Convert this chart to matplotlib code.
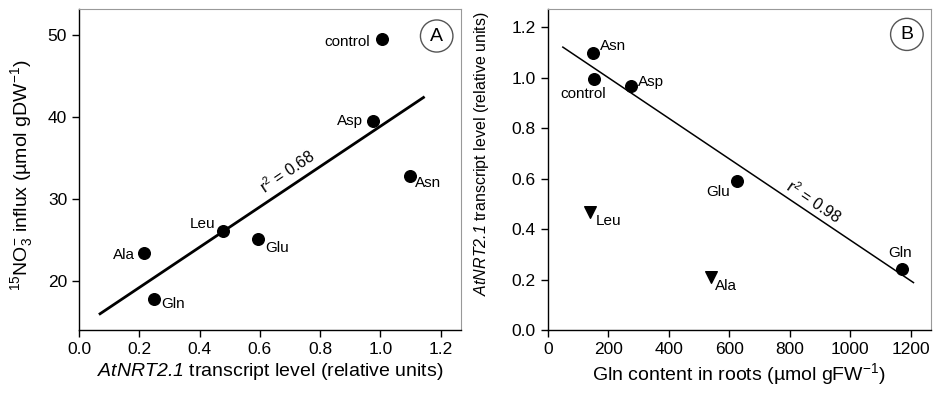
import matplotlib
matplotlib.use("Agg")
import matplotlib.pyplot as plt
from matplotlib.patches import Ellipse

plt.rcParams['font.family'] = ['Liberation Sans', 'DejaVu Sans']
plt.rcParams['mathtext.fontset'] = 'custom'
plt.rcParams['mathtext.rm'] = 'Liberation Sans'
plt.rcParams['mathtext.it'] = 'Liberation Sans:italic'
plt.rcParams['mathtext.sf'] = 'Liberation Sans:italic'
plt.rcParams['mathtext.default'] = 'regular'

# panel A: transcript level vs 15NO3- influx
a_names = ['control', 'Asp', 'Asn', 'Leu', 'Glu', 'Ala', 'Gln']
a_x = [1.005, 0.975, 1.099, 0.477, 0.595, 0.217, 0.249]
a_y = [49.6, 39.55, 32.84, 26.1, 25.1, 23.45, 17.8]
a_fit_x = [0.07, 1.143]
a_fit_y = [15.98, 42.4]

# panel B: Gln content vs transcript level
b_names = ['Asn', 'control', 'Asp', 'Glu', 'Gln']
b_x = [151, 154, 275, 625, 1172]
b_y = [1.098, 0.995, 0.966, 0.589, 0.241]
b_tri_names = ['Leu', 'Ala']
b_tri_x = [140, 539]
b_tri_y = [0.468, 0.212]
b_fit_x = [50, 1209]
b_fit_y = [1.122, 0.188]

fig = plt.figure(figsize=(9.39, 3.95), dpi=100)
axA = fig.add_axes([0.0841, 0.1646, 0.407, 0.8125])
axB = fig.add_axes([0.5833, 0.1646, 0.4082, 0.8125])

for ax in (axA, axB):
    for s in ('top', 'right'):
        ax.spines[s].set_color('#999999')
        ax.spines[s].set_linewidth(0.8)
    for s in ('left', 'bottom'):
        ax.spines[s].set_linewidth(1.0)
    ax.tick_params(direction='out', length=5, width=1, labelsize=12.5, top=False, right=False)

lab = dict(textcoords='offset points', va='center', fontsize=11)

# ---- A
axA.plot(a_fit_x, a_fit_y, color='black', lw=2)
axA.scatter(a_x, a_y, s=70, color='black', zorder=3)
a_off = {'control': (-8.4, -2.4, 'right'), 'Asp': (-7, 0, 'right'), 'Asn': (3.6, -5, 'left'),
         'Leu': (-5.5, 5.3, 'right'), 'Glu': (4.8, -6.2, 'left'), 'Ala': (-6.7, -1.7, 'right'),
         'Gln': (5, -3.6, 'left')}
for n, x, y in zip(a_names, a_x, a_y):
    dx, dy, ha = a_off[n]
    axA.annotate(n, (x, y), xytext=(dx, dy), ha=ha, **lab)
axA.text(0.69, 33.4, r'r$^2$ = 0.68', rotation=34, ha='center', va='center', fontsize=11.5)
axA.set_xlim(0, 1.268)
axA.set_ylim(14.0, 53.2)
axA.set_xticks([0.0, 0.2, 0.4, 0.6, 0.8, 1.0, 1.2])
axA.set_yticks([20, 30, 40, 50])
axA.set_xlabel(r'$\mathsf{AtNRT2.1}$ transcript level (relative units)', fontsize=14, labelpad=3)
axA.set_ylabel(r'$^{15}$NO$_3^{-}$ influx (µmol gDW$^{-1}$)', fontsize=14)
axA.yaxis.set_label_coords(-0.115, 0.481)
axA.add_patch(Ellipse((0.936, 0.916), 0.085, 0.1, transform=axA.transAxes,
                      fill=False, lw=1, edgecolor='#555555'))
axA.text(0.936, 0.916, 'A', transform=axA.transAxes, ha='center', va='center', fontsize=14)

# ---- B
axB.plot(b_fit_x, b_fit_y, color='black', lw=1.1)
axB.scatter(b_x, b_y, s=70, color='black', zorder=3)
axB.scatter(b_tri_x, b_tri_y, s=70, marker='v', color='black', zorder=3)
b_off = {'Asn': (5, 5, 'left'), 'control': (-8, -11, 'center'), 'Asp': (5, 3.4, 'left'),
         'Glu': (-5, -7.5, 'right'), 'Gln': (-1.3, 11.7, 'center'), 'Leu': (4.3, -6.5, 'left'),
         'Ala': (3, -6.7, 'left')}
for n, x, y in zip(b_names + b_tri_names, b_x + b_tri_x, b_y + b_tri_y):
    dx, dy, ha = b_off[n]
    axB.annotate(n, (x, y), xytext=(dx, dy), ha=ha, **lab)
axB.text(878, 0.51, r'r$^2$ = 0.98', rotation=-34, ha='center', va='center', fontsize=11.5)
axB.set_xlim(0, 1267)
axB.set_ylim(0, 1.273)
axB.set_xticks([0, 200, 400, 600, 800, 1000, 1200])
axB.set_yticks([0.0, 0.2, 0.4, 0.6, 0.8, 1.0, 1.2])
axB.set_yticklabels(['0.0', '0.2', '0.4', '0.6', '0.8', '1.0', '1.2'])
axB.set_xlabel(r'Gln content in roots (µmol gFW$^{-1}$)', fontsize=14, labelpad=3)
axB.set_ylabel(r'$\mathsf{AtNRT2.1}$ transcript level (relative units)', fontsize=11.5)
axB.yaxis.set_label_coords(-0.148, 0.55)
axB.add_patch(Ellipse((0.937, 0.921), 0.085, 0.1, transform=axB.transAxes,
                      fill=False, lw=1, edgecolor='#555555'))
axB.text(0.937, 0.921, 'B', transform=axB.transAxes, ha='center', va='center', fontsize=14)

fig.savefig('out.png', dpi=100)
